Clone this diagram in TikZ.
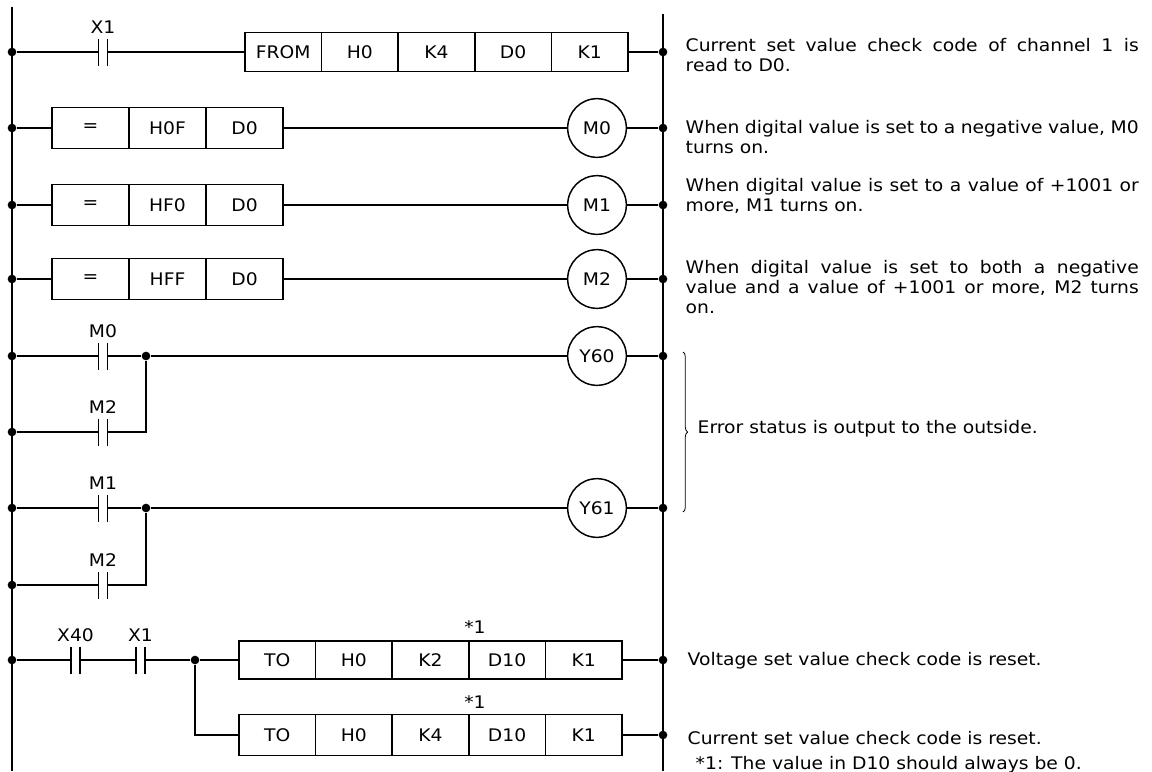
\documentclass[tikz,border=0pt]{standalone}
\usepackage{fontspec}
\setmainfont[FakeStretch=1.08]{DejaVu Sans}
\usetikzlibrary{positioning,decorations.pathreplacing}

\begin{document}
\begin{tikzpicture}[x=0.75pt,y=0.75pt,yscale=-1,xscale=1,
  line width=1.1pt,
  font=\fontsize{13}{15}\selectfont,
  cell/.style={draw, minimum width=57.45pt, minimum height=29.25pt, inner sep=0pt, outer sep=0pt},
  cmp/.style={cell, minimum width=57.75pt, minimum height=30.75pt},
  coil/.style={draw, circle, minimum size=44pt, inner sep=0pt},
  contact/.style={minimum width=6.75pt, minimum height=20.25pt, inner sep=0pt, outer sep=0pt, label={[label distance=0pt]above:#1}},
  dot/.style={circle, fill, minimum size=6.5pt, inner sep=0pt},
  note/.style={anchor=base west, inner sep=0pt, text width=339.75pt, align=justify},
  plain/.style={anchor=base west, inner sep=0pt}]
\useasboundingbox (0,0) rectangle (1152,771);
% Rails
\coordinate (ltop) at (12,7);
\coordinate (lbot) at (12,771);
\coordinate (rtop) at (663,14);
\coordinate (rbot) at (663,771);
\draw[line width=1.3pt] (ltop) -- (lbot);
\draw[line width=1.3pt] (rtop) -- (rbot);

% Rung: FROM
\node[dot] (l1) at (12,52) {};
\node[contact=X1] (x1) at (103,52) {};
\node[cell, anchor=west] (from) at (245,52) {FROM};
\node[cell, right=0pt of from] (fromH) {H0};
\node[cell, right=0pt of fromH] (fromK4) {K4};
\node[cell, right=0pt of fromK4] (fromD) {D0};
\node[cell, right=0pt of fromD] (fromK1) {K1};
\node[dot] (r1) at (663,52) {};
\draw (l1) -- (x1.west) (x1.east) -- (from) (fromK1) -- (r1);

% Rung: = H0F D0
\node[dot] (l2) at (12,128) {};
\node[cmp, anchor=west] (eqA) at (52,128) {=};
\node[cmp, right=0pt of eqA] (hA) {H0F};
\node[cmp, right=0pt of hA] (dA) {D0};
\node[coil] (coilM0) at (597,128) {M0};
\node[dot] (r2) at (663,128) {};
\draw (l2) -- (eqA) (dA) -- (coilM0) -- (r2);

% Rung: = HF0 D0
\node[dot] (l3) at (12,205) {};
\node[cmp, anchor=west] (eqB) at (52,205) {=};
\node[cmp, right=0pt of eqB] (hB) {HF0};
\node[cmp, right=0pt of hB] (dB) {D0};
\node[coil] (coilM1) at (597,205) {M1};
\node[dot] (r3) at (663,205) {};
\draw (l3) -- (eqB) (dB) -- (coilM1) -- (r3);

% Rung: = HFF D0
\node[dot] (l4) at (12,279) {};
\node[cmp, anchor=west] (eqC) at (52,279) {=};
\node[cmp, right=0pt of eqC] (hC) {HFF};
\node[cmp, right=0pt of hC] (dC) {D0};
\node[coil] (coilM2) at (597,279) {M2};
\node[dot] (r4) at (663,279) {};
\draw (l4) -- (eqC) (dC) -- (coilM2) -- (r4);

% Rung: Y60
\node[dot] (l5) at (12,356) {};
\node[contact=M0] (m0) at (103,356) {};
\node[dot] (j5) at (146,356) {};
\node[coil] (coilY60) at (597,356) {Y60};
\node[dot] (r5) at (663,356) {};
\node[dot] (l6) at (12,432) {};
\node[contact=M2] (m2a) at (103,432) {};
\draw (l5) -- (m0.west) (m0.east) -- (j5) -- (coilY60) -- (r5);
\draw (l6) -- (m2a.west) (m2a.east) -| (j5);

% Rung: Y61
\node[dot] (l7) at (12,508) {};
\node[contact=M1] (m1) at (103,508) {};
\node[dot] (j7) at (146,508) {};
\node[coil] (coilY61) at (597,508) {Y61};
\node[dot] (r7) at (663,508) {};
\node[dot] (l8) at (12,585) {};
\node[contact=M2] (m2b) at (103,585) {};
\draw (l7) -- (m1.west) (m1.east) -- (j7) -- (coilY61) -- (r7);
\draw (l8) -- (m2b.west) (m2b.east) -| (j7);

% Rung: TO
\node[dot] (l9) at (12,660) {};
\node[contact=X40] (x40) at (75.5,660) {};
\node[contact=X1] (x1b) at (140.5,660) {};
\node[dot] (j9) at (195,660) {};
\node[cell, minimum height=28.5pt, anchor=west] (toA) at (239,660) {TO};
\node[cell, minimum height=28.5pt, right=0pt of toA] (toAH) {H0};
\node[cell, minimum height=28.5pt, right=0pt of toAH] (toAK) {K2};
\node[cell, minimum height=28.5pt, right=0pt of toAK] (toAD) {D10};
\node[cell, minimum height=28.5pt, right=0pt of toAD] (toAK1) {K1};
\node (starA) at (475,627) {*1};
\node[dot] (r9) at (663,660) {};
\node[cell, minimum height=30.75pt, anchor=west] (toB) at (239,735) {TO};
\node[cell, minimum height=30.75pt, right=0pt of toB] (toBH) {H0};
\node[cell, minimum height=30.75pt, right=0pt of toBH] (toBK) {K4};
\node[cell, minimum height=30.75pt, right=0pt of toBK] (toBD) {D10};
\node[cell, minimum height=30.75pt, right=0pt of toBD] (toBK1) {K1};
\node (starB) at (475,702) {*1};
\node[dot] (r10) at (663,735) {};
\draw (l9) -- (x40.west) (x40.east) -- (x1b.west) (x1b.east) -- (j9) -- (toA) (toAK1) -- (r9);
\draw (j9) |- (toB) (toBK1) -- (r10);

% Contact bars
\foreach \c in {x1,m0,m2a,m1,m2b,x40,x1b}
  \draw (\c.north west) -- (\c.south west) (\c.north east) -- (\c.south east);

% Comments
\node[note] (t1) at (685,51) {Current set value check code of channel 1 is\linebreak read to D0.};
\node[note] (t2) at (685,133.5) {When digital value is set to a negative value, M0\linebreak turns on.};
\node[note] (t3) at (685,191) {When digital value is set to a value of +1001 or\linebreak more, M1 turns on.};
\node[note] (t4) at (685,273) {When digital value is set to both a negative\linebreak value and a value of +1001 or more, M2 turns\linebreak on.};
\coordinate (btop) at (683,352);
\coordinate (bbot) at (683,512);
\draw[line width=0.6pt, decorate, decoration={brace, amplitude=3.5pt}] (btop) -- (bbot);
\node[plain] (t5) at (697,433) {Error status is output to the outside.};
\node[plain] (t6) at (687,665) {Voltage set value check code is reset.};
\node[plain] (t7) at (687,744) {Current set value check code is reset.};
\node[plain] (t8) at (695,769) {*1: The value in D10 should always be 0.};
\end{tikzpicture}
\end{document}
